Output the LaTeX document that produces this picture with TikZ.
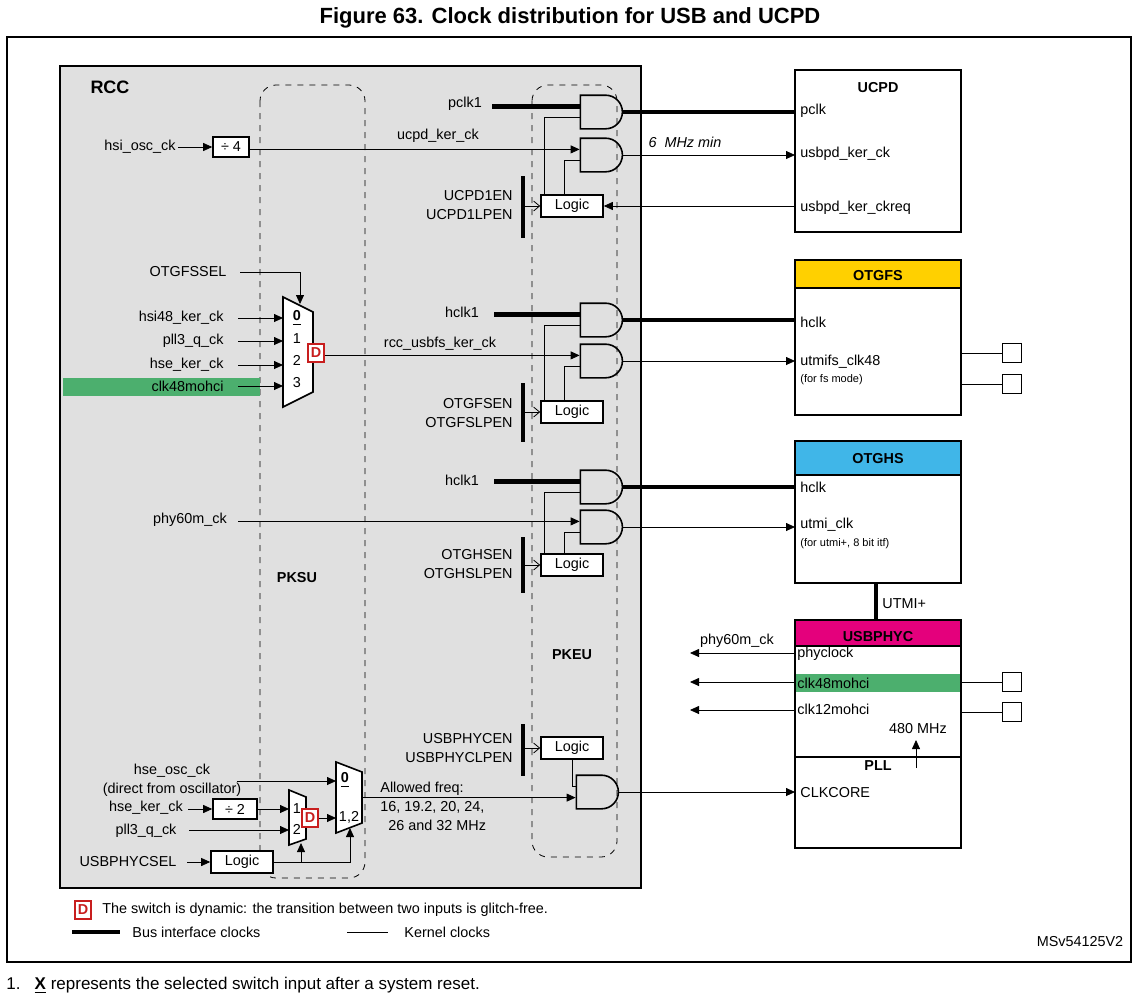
\documentclass[tikz,border=0pt]{standalone}
\usepackage{fontspec}
\setmainfont{Liberation Sans}
\usetikzlibrary{shapes.gates.logic.US,arrows.meta}
\definecolor{grn}{RGB}{76,175,110}
\definecolor{yel}{RGB}{255,208,0}
\definecolor{cya}{RGB}{64,182,232}
\definecolor{mag}{RGB}{228,0,124}
\definecolor{dred}{RGB}{200,30,30}
\newcommand{\fsz}{\fontsize{7.2}{8.5}\selectfont}
\tikzset{
 every node/.style={font=\fsz,inner sep=1pt},
 bus/.style={line width=2.4pt},
 arr/.style={-{Triangle[length=4.5pt,width=4pt]}},
 oarr/.style={-{Straight Barb[length=3pt,width=5pt]}},
 gate/.style={and gate US,draw,thick,logic gate inputs=nn,minimum width=20pt,minimum height=16pt,inner sep=0pt},
 lbox/.style={draw,thick,fill=white,minimum width=31pt,minimum height=11pt,inner sep=0pt},
 dbox/.style={draw=dred,thick,fill=white,text=dred,font=\fsz\bfseries,minimum width=8pt,minimum height=9pt,inner sep=0pt},
 blk/.style={draw,line width=1.2pt},
 sq/.style={draw,thick,fill=white,minimum size=9.5pt,inner sep=0pt},
 pk/.style={draw,dashed,rounded corners=8pt},
}
\begin{document}
\begin{tikzpicture}[x=0.5pt,y=-0.5pt]
\useasboundingbox (0,0) rectangle (1141,997);
\node[font=\fontsize{11}{13}\selectfont\bfseries] (title) at (570,18) {Figure 63. Clock distribution for USB and UCPD};
\draw[thick] (7,37) rectangle (1131,962);
\coordinate (R) at (795,0);
% RCC
\draw[fill=black!12,line width=1.2pt] (60,66) rectangle (641,888);
\node[font=\fontsize{9}{10}\selectfont\bfseries] (rcc) at (110,87) {RCC};
\draw[pk] (260,85) rectangle (365,878);
\draw[pk] (532,85) rectangle (617,857);
\node[font=\fsz\bfseries] (pksu) at (297,578) {PKSU};
\node[font=\fsz\bfseries] (pkeu) at (572,655) {PKEU};
\fill[grn] (63,378) rectangle (260,396);
% right blocks
\draw[blk] (795,70) rectangle (961,232);
\node[font=\fsz\bfseries] at (878,88) {UCPD};
\node[anchor=west] (pclk) at (798,111) {pclk};
\node[anchor=west] (ukc) at (798,154) {usbpd\_ker\_ck};
\node[anchor=west] (ukr) at (798,208) {usbpd\_ker\_ckreq};
\fill[yel] (795,260) rectangle (961,288);
\draw[blk] (795,260) rectangle (961,415);
\draw[blk] (795,288) -- (961,288);
\node[font=\fsz\bfseries] at (878,276) {OTGFS};
\node[anchor=west] (fshclk) at (798,322) {hclk};
\node[anchor=west] (fsclk) at (798,362) {utmifs\_clk48};
\node[anchor=west,font=\fontsize{5.5}{6}\selectfont] at (798,380) {(for fs mode)};
\node[sq] (s1) at (1012,353) {};
\node[sq] (s2) at (1012,384) {};
\draw (961,353) -- (s1); \draw (961,384) -- (s2);
\fill[cya] (795,441) rectangle (961,475);
\draw[blk] (795,441) rectangle (961,583);
\draw[blk] (795,475) -- (961,475);
\node[font=\fsz\bfseries] at (878,459) {OTGHS};
\node[anchor=west] (hshclk) at (798,487) {hclk};
\node[anchor=west] (hsclk) at (798,525) {utmi\_clk};
\node[anchor=west,font=\fontsize{5.5}{6}\selectfont] at (798,544) {(for utmi+, 8 bit itf)};
\draw[bus] (876,583) -- (876,620);
\node[anchor=west] (utmi) at (880,604) {UTMI+};
\fill[mag] (795,620) rectangle (961,646);
\fill[grn] (795,674) rectangle (961,692);
\draw[blk] (795,620) rectangle (961,757);
\draw[blk] (795,646) -- (961,646);
\node[font=\fsz\bfseries] at (878,637) {USBPHYC};
\node[anchor=west] (phyclock) at (795,654) {phyclock};
\node[anchor=west] (c48) at (795,683) {clk48mohci};
\node[anchor=west] (c12) at (795,709) {clk12mohci};
\node (mhz) at (918,729) {480 MHz};
\node[sq] (s3) at (1012,682) {};
\node[sq] (s4) at (1012,712) {};
\draw (961,682) -- (s3); \draw (961,712) -- (s4);
\draw[blk] (795,757) rectangle (961,848);
\node[font=\fsz\bfseries] at (878,766) {PLL};
\node[anchor=west] (clkcore) at (798,793) {CLKCORE};
\draw[arr] (916,768) -- (916,740);
\coordinate (l1) at (690,653); \coordinate (l2) at (690,682); \coordinate (l3) at (690,710);
\draw[arr] (795,653) -- (l1);
\draw[arr] (795,682) -- (l2);
\draw[arr] (795,710) -- (l3);
\node (p60) at (737,641) {phy60m\_ck};
% ===== UCPD path
\node[gate] (g1) at (600,112) {};
\node[gate] (g2) at (600,155) {};
\node[lbox] (lg1) at (572,206) {Logic};
\node (pclk1) at (465,104) {pclk1};
\draw[bus] (g1.input 1) -- ++(-88,0);
\draw ([xshift=-14pt]lg1.north) |- (g1.input 2);
\draw ([xshift=-4pt]lg1.north) |- (g2.input 2);
\node (hsi) at (140,147) {hsi\_osc\_ck};
\node[draw,thick,fill=white,minimum width=18pt,minimum height=10pt,inner sep=0pt] (d4) at (231,147) {÷ 4};
\draw[arr] (178,147) -- (d4);
\draw[arr] (d4.east |- g2.input 1) -- (g2.input 1);
\node (ukcl) at (438,136) {ucpd\_ker\_ck};
\draw[bus] (g1.output) -- (g1.output -| R);
\draw[arr] (g2.output) -- (g2.output -| R);
\node[font=\fsz\itshape] at (685,142) {6 \ MHz min};
\draw[arr] (lg1.east -| R) -- (lg1.east);
\draw[bus] (523,176) -- (523,238);
\node[anchor=east,align=right] (en1) at (515,205) {UCPD1EN\\[1pt]UCPD1LPEN};
\draw[oarr] (lg1.west -| 523,0) -- (lg1.west);
% ===== OTGFS path
\node[gate] (g3) at (600,320) {};
\node[gate] (g4) at (600,361) {};
\node[lbox] (lg2) at (572,412) {Logic};
\node (hclk1a) at (462,312) {hclk1};
\draw[bus] (g3.input 1) -- ++(-86,0);
\draw ([xshift=-14pt]lg2.north) |- (g3.input 2);
\draw ([xshift=-4pt]lg2.north) |- (g4.input 2);
\draw[bus] (g3.output) -- (g3.output -| R);
\draw[arr] (g4.output) -- (g4.output -| R);
\draw[bus] (523,383) -- (523,442);
\node[anchor=east,align=right] (en2) at (515,413) {OTGFSEN\\[1pt]OTGFSLPEN};
\draw[oarr] (lg2.west -| 523,0) -- (lg2.west);
% mux
\draw[thick,fill=white] (283,297) -- (313,312) -- (313,392) -- (283,407) -- cycle;
\node (m0) at (297,318) {\underline{\textbf{0}}};
\node (m1) at (297,339) {1};
\node (m2) at (297,360) {2};
\node (m3) at (297,383) {3};
\node (sel) at (188,272) {OTGFSSEL};
\draw[arr] (240,272) -| (300,304);
\node[anchor=east] (i0) at (226,318) {hsi48\_ker\_ck};
\node[anchor=east] (i1) at (226,341) {pll3\_q\_ck};
\node[anchor=east] (i2) at (226,365) {hse\_ker\_ck};
\node[anchor=east] (i3) at (226,386) {clk48mohci};
\draw[arr] (238,318) -- (283,318);
\draw[arr] (238,341) -- (283,341);
\draw[arr] (238,365) -- (283,365);
\draw[arr] (238,386) -- (283,386);
\node[dbox] (dfs) at (316,353) {D};
\draw[arr] (dfs.east |- g4.input 1) -- (g4.input 1);
\node (rfs) at (440,344) {rcc\_usbfs\_ker\_ck};
% ===== OTGHS path
\node[gate] (g5) at (600,487) {};
\node[gate] (g6) at (600,527) {};
\node[lbox] (lg3) at (572,565) {Logic};
\node (hclk1b) at (462,480) {hclk1};
\draw[bus] (g5.input 1) -- ++(-86,0);
\draw ([xshift=-14pt]lg3.north) |- (g5.input 2);
\draw ([xshift=-4pt]lg3.north) |- (g6.input 2);
\draw[bus] (g5.output) -- (g5.output -| R);
\draw[arr] (g6.output) -- (g6.output -| R);
\node (phy) at (190,520) {phy60m\_ck};
\draw[arr] (g6.input 1 -| 238,0) -- (g6.input 1);
\draw[bus] (523,537) -- (523,593);
\node[anchor=east,align=right] (en3) at (515,564) {OTGHSEN\\[1pt]OTGHSLPEN};
\draw[oarr] (lg3.west -| 523,0) -- (lg3.west);
% ===== PHY path
\node[gate] (g7) at (596,792) {};
\node[lbox] (lg4) at (572,748) {Logic};
\draw (lg4.south) |- (g7.input 1);
\draw[arr] (g7.output) -- (g7.output -| R);
\draw[bus] (523,724) -- (523,776);
\node[anchor=east,align=right] (en4) at (515,748) {USBPHYCEN\\[1pt]USBPHYCLPEN};
\draw[oarr] (lg4.west -| 523,0) -- (lg4.west);
% bottom muxes
\draw[thick,fill=white] (336,762) -- (362,772) -- (362,823) -- (336,833) -- cycle;
\draw[thick,fill=white] (289,790) -- (306,797) -- (306,839) -- (289,845) -- cycle;
\node (b0) at (345,780) {\underline{\textbf{0}}};
\node (b12) at (349,817) {1,2};
\node (s1l) at (297,809) {1};
\node (s2l) at (297,829) {2};
\node[dbox] (dphy) at (310,818) {D};
\draw[arr] (dphy.east) -- (336,818);
\node[align=center] (hosc) at (172,780) {hse\_osc\_ck\\[1pt](direct from oscillator)};
\draw[arr] (237,781) -- (336,781);
\node (hker) at (146,808) {hse\_ker\_ck};
\node[draw,thick,fill=white,minimum width=22pt,minimum height=10pt,inner sep=0pt] (d2) at (235,809) {÷ 2};
\draw[arr] (188,809) -- (d2);
\draw[arr] (d2.east) -- (289,809);
\node (pll3) at (146,831) {pll3\_q\_ck};
\draw[arr] (189,830) -- (289,830);
\node (usel) at (128,862) {USBPHYCSEL};
\node[lbox] (lg5) at (242,862) {Logic};
\draw[arr] (187,862) -- (lg5.west);
\draw[arr] (lg5.east) -| (350,828);
\draw[arr] (301,862) -- (301,843);
\draw[arr] (g7.input 2 -| 362,0) -- (g7.input 2);
\node[anchor=west,align=left] (af) at (378,806) {Allowed freq:\\[1pt]16, 19.2, 20, 24,\\[1pt]\ \ 26 and 32 MHz};
% legend
\node[dbox] (ld) at (83,910) {D};
\node[anchor=west] at (100,910) {The switch is dynamic: the transition between two inputs is glitch-free.};
\draw[bus] (72,932) -- (120,932);
\node[anchor=west] at (130,932) {Bus interface clocks};
\draw (347,932) -- (388,932);
\node[anchor=west] at (402,932) {Kernel clocks};
\node (ms) at (1080,942) {MSv54125V2};
\node[anchor=west,font=\fontsize{8.5}{10}\selectfont] at (4,985) {1.\ \ \ \underline{\textbf{X}} represents the selected switch input after a system reset.};
\end{tikzpicture}
\end{document}
